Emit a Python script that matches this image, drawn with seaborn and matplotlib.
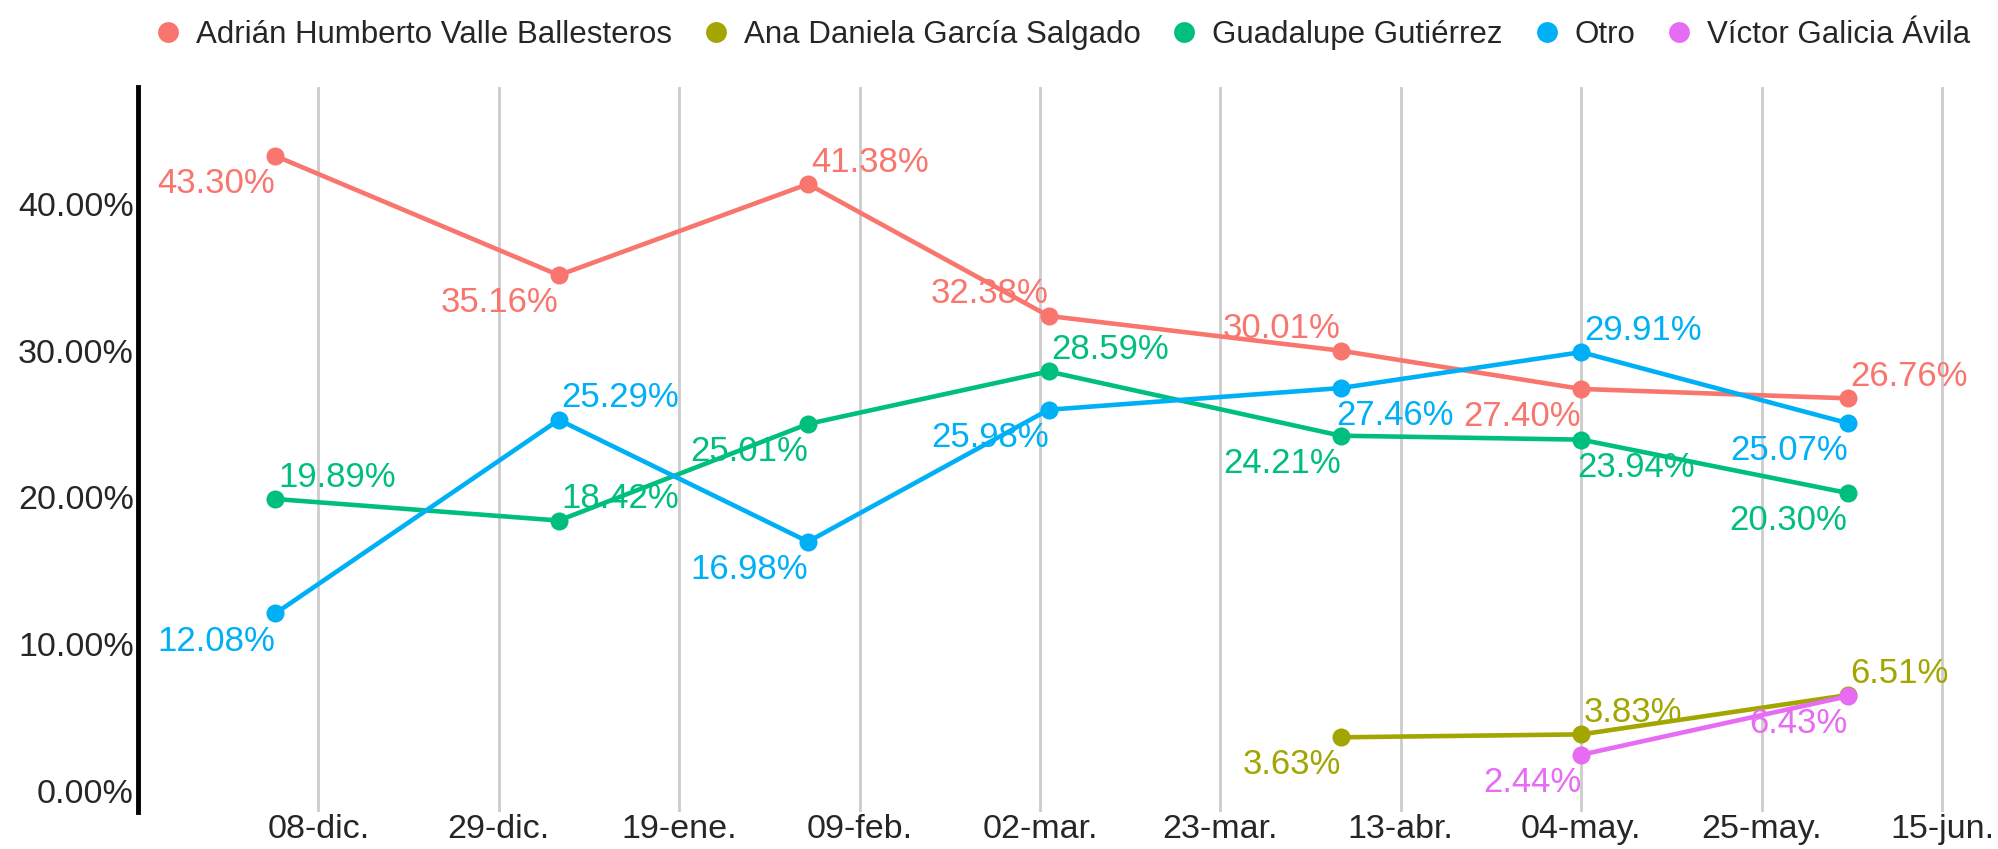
import numpy as np
import pandas as pd
import matplotlib
matplotlib.use("Agg")
import matplotlib.pyplot as plt
from matplotlib.lines import Line2D
import seaborn as sns

# data
fechas = ["2022-12-03", "2023-01-05", "2023-02-03", "2023-03-03",
          "2023-04-06", "2023-05-04", "2023-06-04"]
adrian = [43.30, 35.16, 41.38, 32.38, 30.01, 27.40, 26.76]
ana = [np.nan, np.nan, np.nan, np.nan, 3.63, 3.83, 6.51]
guadalupe = [19.89, 18.42, 25.01, 28.59, 24.21, 23.94, 20.30]
otro = [12.08, 25.29, 16.98, 25.98, 27.46, 29.91, 25.07]
victor = [np.nan, np.nan, np.nan, np.nan, np.nan, 2.44, 6.43]

candidatos = ["Adrián Humberto Valle Ballesteros", "Ana Daniela García Salgado",
              "Guadalupe Gutiérrez", "Otro", "Víctor Galicia Ávila"]
colores = ["#F8766D", "#A3A500", "#00BF7D", "#00B0F6", "#E76BF3"]

tick_fechas = ["2022-12-08", "2022-12-29", "2023-01-19", "2023-02-09", "2023-03-02",
               "2023-03-23", "2023-04-13", "2023-05-04", "2023-05-25", "2023-06-15"]
tick_labels = ["08-dic.", "29-dic.", "19-ene.", "09-feb.", "02-mar.",
               "23-mar.", "13-abr.", "04-may.", "25-may.", "15-jun."]

# where each value label sits: ar above-right, al above-left, bl below-left, br below-right
pos_labels = {
    "Adrián Humberto Valle Ballesteros": ["bl", "bl", "ar", "al", "al", "bl", "ar"],
    "Ana Daniela García Salgado": [None, None, None, None, "bl", "ar", "ar"],
    "Guadalupe Gutiérrez": ["ar", "ar", "bl", "ar", "bl", "br", "bl"],
    "Otro": ["bl", "ar", "bl", "bl", "br", "ar", "bl"],
    "Víctor Galicia Ávila": [None, None, None, None, None, "bl", "bl"],
}

series = [adrian, ana, guadalupe, otro, victor]
rows = []
for nombre, vals in zip(candidatos, series):
    for f, v in zip(fechas, vals):
        rows.append({"fecha": pd.Timestamp(f), "candidato": nombre, "valor": v})
df = pd.DataFrame(rows).dropna()

sns.set_style("white")
plt.rcParams["font.family"] = ["Liberation Sans", "DejaVu Sans"]

fig = plt.figure(figsize=(19.98, 8.49), dpi=100)
ax = fig.add_axes([0.069, 0.043, 0.9245, 0.8545])

paleta = dict(zip(candidatos, colores))
sns.lineplot(data=df, x="fecha", y="valor", hue="candidato", hue_order=candidatos,
             palette=paleta, linewidth=3.3, marker="o", markersize=13,
             markeredgewidth=0, legend=False, ax=ax, zorder=3)

offs = {"ar": (2, 9, "left", "baseline"), "al": (0, 9, "right", "baseline"),
        "bl": (0, -8, "right", "top"), "br": (-3, -8, "left", "top")}
for _, r in df.iterrows():
    i = fechas.index(r["fecha"].strftime("%Y-%m-%d"))
    p = pos_labels[r["candidato"]][i]
    dx, dy, ha, va = offs[p]
    ax.annotate(f"{r['valor']:.2f}%", (r["fecha"], r["valor"]), xytext=(dx, dy),
                textcoords="offset points", ha=ha, va=va, fontsize=25,
                color=paleta[r["candidato"]], zorder=4)

ax.set_xlim(pd.Timestamp("2022-11-17"), pd.Timestamp("2023-06-20"))
ax.set_ylim(-1.5, 48)
ax.set_xticks([pd.Timestamp(t) for t in tick_fechas])
ax.set_xticklabels(tick_labels, fontsize=24.5)
ax.set_yticks([0, 10, 20, 30, 40])
ax.set_yticklabels([f"{v:.2f}%" for v in [0, 10, 20, 30, 40]], fontsize=24.5)
ax.tick_params(axis="x", length=0, pad=1)
ax.tick_params(axis="y", length=0, pad=3)
ax.grid(axis="x", color="#cccccc", linewidth=2)
ax.grid(axis="y", visible=False)
for s in ["top", "right", "bottom"]:
    ax.spines[s].set_visible(False)
ax.spines["left"].set_color("black")
ax.spines["left"].set_linewidth(3.5)
ax.set_xlabel("")
ax.set_ylabel("")

handles = [Line2D([], [], marker="o", linestyle="", markersize=15,
                  markerfacecolor=c, markeredgewidth=0) for c in colores]
fig.legend(handles, candidatos, loc="center", bbox_to_anchor=(0.532, 0.959),
           ncol=5, frameon=False, fontsize=22.5, handlelength=0.8,
           handletextpad=0.5, columnspacing=1.0)

fig.savefig("out.png", dpi=100)
